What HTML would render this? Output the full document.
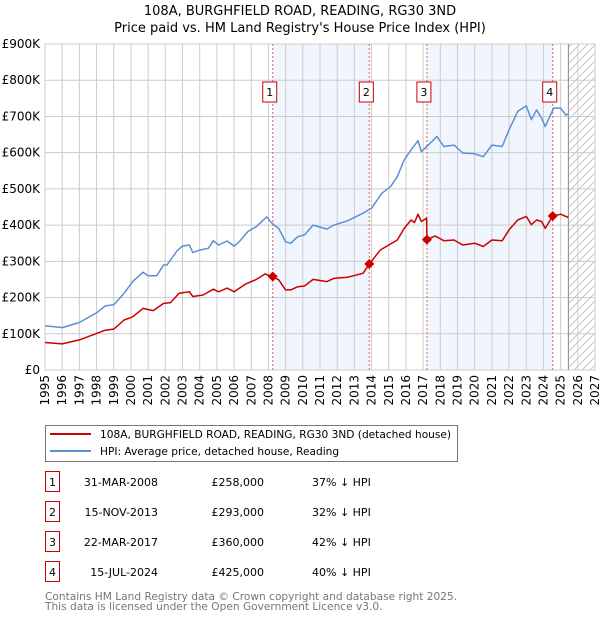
<!DOCTYPE html>
<html><head><meta charset="utf-8">
<style>
body{margin:0;width:600px;height:620px;background:#fff;font-family:"DejaVu Sans","Liberation Sans",sans-serif;overflow:hidden}
svg{position:absolute;left:0;top:0}
</style></head>
<body>
<svg id="c" width="600" height="620"></svg>
<script>
const hpiYears=[1995,1996,1997,1998,1998.5,1999,1999.6,2000.1,2000.7,2001,2001.5,2001.9,2002.1,2002.7,2003,2003.4,2003.6,2004,2004.5,2004.8,2005.1,2005.6,2006,2006.3,2006.8,2007.3,2007.9,2008.2,2008.6,2009,2009.3,2009.7,2010.1,2010.6,2011.4,2011.8,2012.6,2013.5,2014,2014.6,2015.1,2015.5,2015.9,2016.3,2016.7,2016.9,2017.3,2017.8,2018.2,2018.8,2019.3,2020,2020.5,2021,2021.6,2022,2022.5,2023,2023.3,2023.6,2023.9,2024.1,2024.6,2025,2025.3,2025.45];
const hpiValues=[122,117,131,158,177,180,212,244,270,260,260,290,290,330,342,345,324,331,336,357,345,356,342,354,382,396,423,405,391,354,350,368,373,400,389,400,412,433,447,488,506,534,580,608,633,603,621,645,617,621,599,597,589,621,617,663,714,729,691,718,695,672,723,723,704,707];
const priceYears=[1995,1996,1997,1998,1998.5,1999,1999.6,2000.1,2000.7,2001.3,2001.9,2002.3,2002.8,2003.4,2003.6,2004.2,2004.8,2005.1,2005.6,2006,2006.7,2007.3,2007.8,2008.2,2008.6,2009,2009.3,2009.7,2010.1,2010.6,2011.4,2011.8,2012.6,2013.5,2013.87,2014.5,2015,2015.5,2015.9,2016.3,2016.5,2016.7,2016.9,2017.2,2017.22,2017.7,2018.2,2018.8,2019.3,2020,2020.5,2021,2021.6,2022,2022.5,2023,2023.3,2023.6,2023.9,2024.1,2024.54,2025,2025.45];
const priceValues=[76,72,83,101,110,113,138,147,170,164,184,186,212,216,203,207,223,216,226,216,238,250,265,258,249,221,221,230,232,250,244,253,256,267,292,331,345,359,391,414,407,430,410,419,360,370,357,359,345,350,341,359,357,387,414,424,401,414,410,391,425,430,421];
const saleLabels=["1","2","3","4"];
const saleYears=[2008.25,2013.87,2017.22,2024.54];
const saleValues=[258,293,360,425];
const saleDates=["31-MAR-2008","15-NOV-2013","22-MAR-2017","15-JUL-2024"];
const salePrices=["£258,000","£293,000","£360,000","£425,000"];
const saleDiffs=["37% ↓ HPI","32% ↓ HPI","42% ↓ HPI","40% ↓ HPI"];
const yTicks=[0,100,200,300,400,500,600,700,800,900];
const yTickLabels=["£0","£100K","£200K","£300K","£400K","£500K","£600K","£700K","£800K","£900K"];

const NS="http://www.w3.org/2000/svg";
const svg=document.getElementById('c');
const X0=45,X1=595,Y0=370,Y1=44;
const xs=y=>X0+(y-1995)*(X1-X0)/32;
const ys=v=>Y0-v*(Y0-Y1)/900;
function mk(t,a,p){const e=document.createElementNS(NS,t);for(const k in a)e.setAttribute(k,a[k]);(p||svg).appendChild(e);return e;}

const defs=mk('defs',{});
const pat=mk('pattern',{id:'h',width:8,height:8,patternUnits:'userSpaceOnUse'},defs);
mk('path',{d:'M0,8 L8,0 M-2,2 L2,-2 M6,10 L10,6',stroke:'#bbb','stroke-width':0.8},pat);

let t=mk('text',{x:300,y:15,'text-anchor':'middle','font-size':13});t.textContent='108A, BURGHFIELD ROAD, READING, RG30 3ND';


t=mk('text',{x:300,y:32,'text-anchor':'middle','font-size':13});t.textContent="Price paid vs. HM Land Registry's House Price Index (HPI)";



const sh=[[saleYears[0],saleYears[1]],[saleYears[2],saleYears[3]]];
sh.forEach(s=>{const r=mk('rect',{x:xs(s[0]),y:Y1,width:xs(s[1])-xs(s[0]),height:Y0-Y1,fill:'#eef3fc','fill-opacity':0.8});

});
const hx=xs(2025.45);
const hr=mk('rect',{x:hx,y:Y1,width:X1-hx,height:Y0-Y1,fill:'url(#h)'});



for(let y=1995;y<=2027;y++){mk('line',{x1:xs(y),x2:xs(y),y1:Y1,y2:Y0,stroke:'#ccc','stroke-width':1});
 const tx=xs(y)+4;const l=mk('text',{x:tx,y:375,'font-size':12,'text-anchor':'end',transform:`rotate(-90 ${tx} 375)`});l.textContent=y;
 
 }
yTicks.forEach((v,i)=>{mk('line',{x1:X0,x2:X1,y1:ys(v),y2:ys(v),stroke:'#ccc','stroke-width':1});
 const l=mk('text',{x:40,y:ys(v)+4,'font-size':12,'text-anchor':'end'});l.textContent=yTickLabels[i];
 
 });
mk('rect',{x:X0,y:Y1,width:X1-X0,height:Y0-Y1,fill:'none',stroke:'#ccc'});
mk('line',{x1:hx,x2:hx,y1:Y1,y2:Y0,stroke:'#888','stroke-width':1});

saleYears.forEach((s,i)=>{const x=xs(s);
 const l=mk('line',{x1:x,x2:x,y1:Y1,y2:Y0,stroke:'#e06060','stroke-width':1,'stroke-dasharray':'2,2'});
 
 
 const g=mk('g',{});
 
 
 mk('rect',{x:x-10,y:82,width:14,height:20,fill:'#fff',stroke:'#c00'},g);
 const tt=mk('text',{x:x-3,y:96,'font-size':11,'text-anchor':'middle'},g);tt.textContent=saleLabels[i];});

function line(xv,yv,col,name){let d='';xv.forEach((x,i)=>d+=(i?'L':'M')+xs(x).toFixed(1)+','+ys(yv[i]).toFixed(1));
 const p=mk('path',{d:d,fill:'none',stroke:col,'stroke-width':1.5,'stroke-linejoin':'round'});
 
 }
line(hpiYears,hpiValues,'#5b8fd6','hpi-line');
line(priceYears,priceValues,'#cc0000','price-paid-line');
saleYears.forEach((s,i)=>{const x=xs(s),y=ys(saleValues[i]);
 const p=mk('path',{d:`M${x-5},${y}L${x},${y-5}L${x+5},${y}L${x},${y+5}Z`,fill:'#cc0000'});
 
 });

const lg=mk('g',{});


mk('rect',{x:45.5,y:425.5,width:412,height:36,fill:'#fff',stroke:'#777'},lg);
mk('line',{x1:50,x2:91,y1:434,y2:434,stroke:'#cc0000','stroke-width':2},lg);
mk('line',{x1:50,x2:91,y1:451,y2:451,stroke:'#5b8fd6','stroke-width':2},lg);
t=mk('text',{x:100,y:438,'font-size':10.6},lg);t.textContent='108A, BURGHFIELD ROAD, READING, RG30 3ND (detached house)';
t=mk('text',{x:100,y:455,'font-size':10.6},lg);t.textContent='HPI: Average price, detached house, Reading';

saleLabels.forEach((s,i)=>{const y=483+i*30;
 const g=mk('g',{});
 
 
 mk('rect',{x:45.5,y:y-11.5,width:14,height:20,fill:'#fff',stroke:'#c00'},g);
 let a=mk('text',{x:52.5,y:y+3,'font-size':11,'text-anchor':'middle'},g);a.textContent=s;
 a=mk('text',{x:158,y:y+3,'font-size':11,'text-anchor':'end'},g);a.textContent=saleDates[i];
 a=mk('text',{x:264,y:y+3,'font-size':11,'text-anchor':'end'},g);a.textContent=salePrices[i];
 a=mk('text',{x:312,y:y+3,'font-size':11},g);a.textContent=saleDiffs[i];});

t=mk('text',{x:45,y:600,'font-size':10.6,fill:'#777'});t.textContent='Contains HM Land Registry data © Crown copyright and database right 2025.';


t=mk('text',{x:45,y:610,'font-size':10.6,fill:'#777'});t.textContent='This data is licensed under the Open Government Licence v3.0.';


</script>
</body></html>
